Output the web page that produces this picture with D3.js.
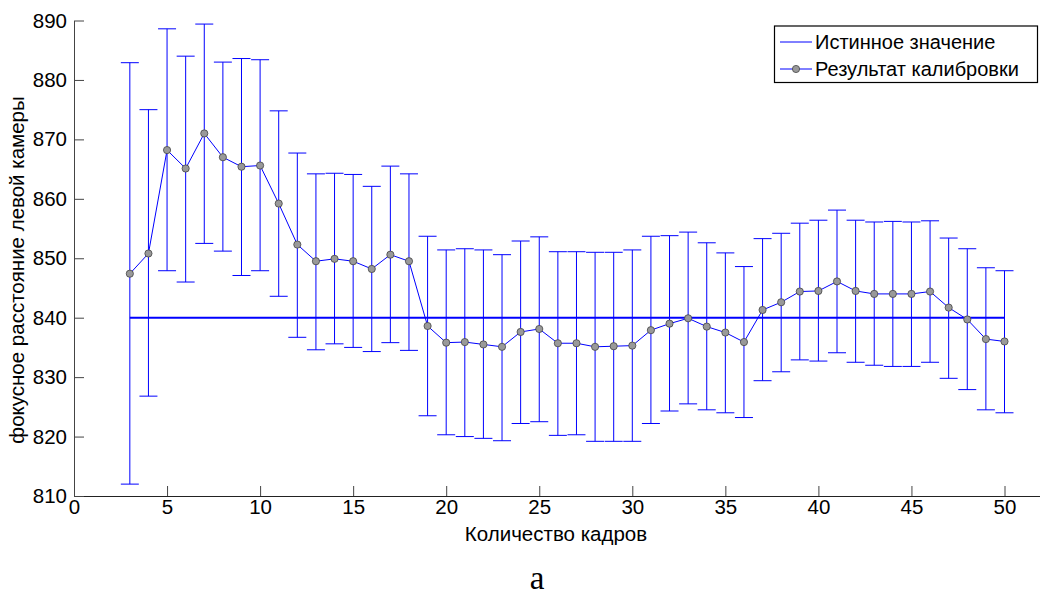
<!DOCTYPE html>
<html>
<head>
<meta charset="utf-8">
<script src="https://cdn.jsdelivr.net/npm/d3@7"></script>
<style>
  body { margin: 0; background: #fff; }
  svg { display: block; font-family: "Liberation Sans", Arial, sans-serif; }
</style>
</head>
<body>
<svg id="chart" width="1040" height="597"></svg>
<script>
// number of frames
const frames = [3, 4, 5, 6, 7, 8, 9, 10, 11, 12, 13, 14, 15, 16, 17, 18, 19, 20, 21, 22, 23, 24, 25, 26,
  27, 28, 29, 30, 31, 32, 33, 34, 35, 36, 37, 38, 39, 40, 41, 42, 43, 44, 45, 46, 47, 48, 49, 50];
// calibrated focal length (mean)
const meanVals = [847.4, 850.8, 868.2, 865.1, 871.0, 867.0, 865.4, 865.6, 859.2, 852.3, 849.5, 849.9,
  849.5, 848.2, 850.6, 849.5, 838.6, 835.8, 835.9, 835.5, 835.1, 837.6, 838.1, 835.7, 835.7, 835.1,
  835.2, 835.3, 837.9, 839.0, 839.9, 838.5, 837.5, 835.9, 841.3, 842.6, 844.4, 844.5, 846.1, 844.5,
  844.0, 844.0, 844.0, 844.4, 841.7, 839.7, 836.4, 836.0];
const upperVals = [882.9, 875.0, 888.6, 884.0, 889.4, 883.0, 883.6, 883.4, 874.8, 867.7, 864.2, 864.3,
  864.1, 862.1, 865.5, 864.2, 853.7, 851.4, 851.6, 851.4, 850.6, 852.9, 853.6, 851.1, 851.1, 851.0,
  851.0, 851.4, 853.7, 853.8, 854.4, 852.6, 850.9, 848.6, 853.3, 854.2, 855.9, 856.4, 858.1, 856.4,
  856.1, 856.2, 856.1, 856.3, 853.4, 851.6, 848.4, 847.9];
const lowerVals = [812.0, 826.8, 847.9, 846.0, 852.5, 851.2, 847.1, 847.9, 843.6, 836.7, 834.6, 835.6,
  835.0, 834.3, 835.8, 834.5, 823.5, 820.3, 820.0, 819.7, 819.3, 822.2, 822.5, 820.2, 820.3, 819.2,
  819.2, 819.2, 822.2, 824.3, 825.5, 824.5, 824.0, 823.2, 829.4, 830.9, 832.9, 832.7, 834.1, 832.5,
  832.0, 831.8, 831.8, 832.5, 829.8, 827.9, 824.5, 824.0];
const trueValue = 840;
const xTicks = [0, 5, 10, 15, 20, 25, 30, 35, 40, 45, 50];
const yTicks = [810, 820, 830, 840, 850, 860, 870, 880, 890];
const legendLabels = ["Истинное значение", "Результат калибровки"];

const svg = d3.select("#chart");
const blue = "#0000ff";
const fs = 20.5;

const x = d3.scaleLinear().domain([0, 55]).range([74, 74 + 55 * 18.61]);
const y = d3.scaleLinear().domain([810, 890]).range([496, 20.5]);

// axes
const xAxis = svg.append("g")
  .attr("transform", `translate(0,${y(810)})`)
  .call(d3.axisBottom(x).tickValues(xTicks).tickSizeInner(-10).tickSizeOuter(0).tickPadding(3));
xAxis.select(".domain").attr("stroke", "#222");
xAxis.selectAll(".tick line").attr("stroke", "#444");
xAxis.selectAll("text").attr("font-size", fs).attr("fill", "#000")
  .attr("font-family", "Liberation Sans, Arial, sans-serif");

const yAxis = svg.append("g")
  .attr("transform", `translate(${x(0)},0)`)
  .call(d3.axisLeft(y).tickValues(yTicks).tickSizeInner(-10).tickSizeOuter(0).tickPadding(7));
yAxis.select(".domain").attr("stroke", "#444");
yAxis.selectAll(".tick line").attr("stroke", "#444");
yAxis.selectAll("text").attr("font-size", fs).attr("fill", "#000")
  .attr("font-family", "Liberation Sans, Arial, sans-serif");

const rows = frames.map((f, i) => ({ f, m: meanVals[i], hi: upperVals[i], lo: lowerVals[i] }));

// error bars
const eb = svg.append("g").attr("stroke", blue).attr("stroke-width", 1).attr("fill", "none");
eb.selectAll(".v").data(rows).enter().append("line")
  .attr("x1", d => x(d.f)).attr("x2", d => x(d.f))
  .attr("y1", d => y(d.lo)).attr("y2", d => y(d.hi));
eb.selectAll(".t").data(rows).enter().append("line")
  .attr("x1", d => x(d.f) - 9).attr("x2", d => x(d.f) + 9)
  .attr("y1", d => y(d.hi)).attr("y2", d => y(d.hi));
eb.selectAll(".b").data(rows).enter().append("line")
  .attr("x1", d => x(d.f) - 9).attr("x2", d => x(d.f) + 9)
  .attr("y1", d => y(d.lo)).attr("y2", d => y(d.lo));

// true value line
svg.append("line")
  .attr("x1", x(frames[0])).attr("x2", x(frames[frames.length - 1]))
  .attr("y1", y(trueValue)).attr("y2", y(trueValue))
  .attr("stroke", blue).attr("stroke-width", 2);

// calibration result
svg.append("path").datum(rows)
  .attr("fill", "none").attr("stroke", blue).attr("stroke-width", 1)
  .attr("d", d3.line().x(d => x(d.f)).y(d => y(d.m)));
svg.append("g").selectAll("circle").data(rows).enter().append("circle")
  .attr("cx", d => x(d.f)).attr("cy", d => y(d.m)).attr("r", 3.6)
  .attr("fill", "#999").attr("stroke", "#444").attr("stroke-width", 0.8);

// axis labels
svg.append("text").attr("x", 556).attr("y", 541).attr("text-anchor", "middle")
  .attr("font-size", fs).text("Количество кадров");
svg.append("text").attr("transform", "translate(24,270) rotate(-90)").attr("text-anchor", "middle")
  .attr("font-size", fs).text("фокусное расстояние левой камеры");
svg.append("text").attr("x", 537).attr("y", 589).attr("text-anchor", "middle")
  .attr("font-family", "Liberation Serif, Times New Roman, serif").attr("font-size", 33).text("а");

// legend
const lg = svg.append("g");
lg.append("rect").attr("x", 774.5).attr("y", 26).attr("width", 263).attr("height", 56.5)
  .attr("fill", "#fff").attr("stroke", "#000").attr("stroke-width", 1.2);
const ly = [42, 69];
lg.append("line").attr("x1", 780).attr("x2", 812).attr("y1", ly[0]).attr("y2", ly[0])
  .attr("stroke", blue).attr("stroke-width", 1);
lg.append("line").attr("x1", 780).attr("x2", 812).attr("y1", ly[1]).attr("y2", ly[1])
  .attr("stroke", blue).attr("stroke-width", 1);
lg.append("circle").attr("cx", 796).attr("cy", ly[1]).attr("r", 3.6)
  .attr("fill", "#999").attr("stroke", "#444").attr("stroke-width", 0.8);
lg.selectAll("text").data(legendLabels).enter().append("text")
  .attr("x", 815).attr("y", (d, i) => ly[i] + 7).attr("font-size", 20).text(d => d);
</script>
</body>
</html>
